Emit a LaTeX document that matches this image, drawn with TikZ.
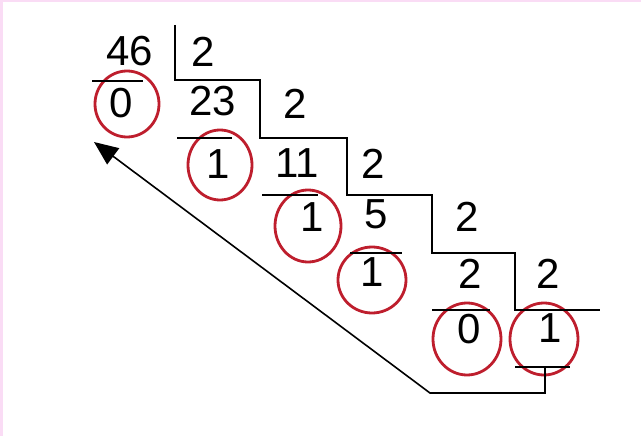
\documentclass[tikz,border=0pt]{standalone}
\usepackage{fontspec}
\setmainfont{Liberation Sans}
\usetikzlibrary{shapes.geometric,arrows.meta}
\definecolor{ringred}{HTML}{BE1E2D}
\definecolor{framepink}{HTML}{FADCF5}
\tikzset{
  digit/.style={inner sep=0pt, font=\fontsize{42}{42}\selectfont},
  ring/.style={draw=ringred, line width=2.8pt, ellipse, inner sep=0pt},
  rule/.style={draw=black, line width=1.8pt},
}
\begin{document}
\begin{tikzpicture}[x=1pt,y=-1pt]
\useasboundingbox (0,0) rectangle (641,436);
\fill[white] (0,0) rectangle (641,436);
\fill[framepink] (0,0) rectangle (3,436);
\fill[framepink] (0,0) rectangle (641,2);

% dividends and divisors
\node[digit] (n46) at (130,51) {46};
\node[digit] (d0) at (203,52) {2};
\node[digit] (n23) at (213,101) {23};
\node[digit] (d1) at (295,104) {2};
\node[digit] (n11) at (297,163) {11};
\node[digit] (d2) at (373,164) {2};
\node[digit] (n5) at (376,214) {5};
\node[digit] (d3) at (467,217) {2};
\node[digit] (n2) at (470,274) {2};
\node[digit] (d4) at (548,274) {2};
\node[digit] (q) at (550,328) {1};

% remainders
\node[digit] (r0) at (121,103) {0};
\node[digit] (r1) at (218,164) {1};
\node[digit] (r2) at (312,217) {1};
\node[digit] (r3) at (372,272) {1};
\node[digit] (r4) at (469,329) {0};

% rings
\node[ring, minimum width=64pt, minimum height=66pt] (c0) at (127,104) {};
\node[ring, minimum width=64pt, minimum height=70pt] (c1) at (220,165) {};
\node[ring, minimum width=66pt, minimum height=72pt] (c2) at (308,226) {};
\node[ring, minimum width=68pt, minimum height=66pt] (c3) at (372,280) {};
\node[ring, minimum width=68pt, minimum height=72pt] (c4) at (467,339) {};
\node[ring, minimum width=68pt, minimum height=72pt] (c5) at (544,339) {};

% staircase
\draw[rule] (175,25) -- (175,80) -- (260,80) -- (260,138) -- (347,138) -- (347,195)
  -- (432,195) -- (432,253) -- (515,253) -- (515,310) -- (600,310);

% underlines
\draw[rule] (92,81) -- (143,81);
\draw[rule] (177,138) -- (232,138);
\draw[rule] (262,195) -- (318,195);
\draw[rule] (350,253) -- (402,253);
\draw[rule] (432,310) -- (490,310);
\draw[rule] (515,367) -- (570,367);

% arrow back to first remainder
\coordinate (a0) at (545,367);
\coordinate (a1) at (545,393);
\coordinate (a2) at (430,393);
\coordinate (tip) at (94,142);
\draw[line width=1.6pt, -{Triangle[length=24pt,width=20pt]}] (a0) -- (a1) -- (a2) -- (tip);
\end{tikzpicture}
\end{document}
